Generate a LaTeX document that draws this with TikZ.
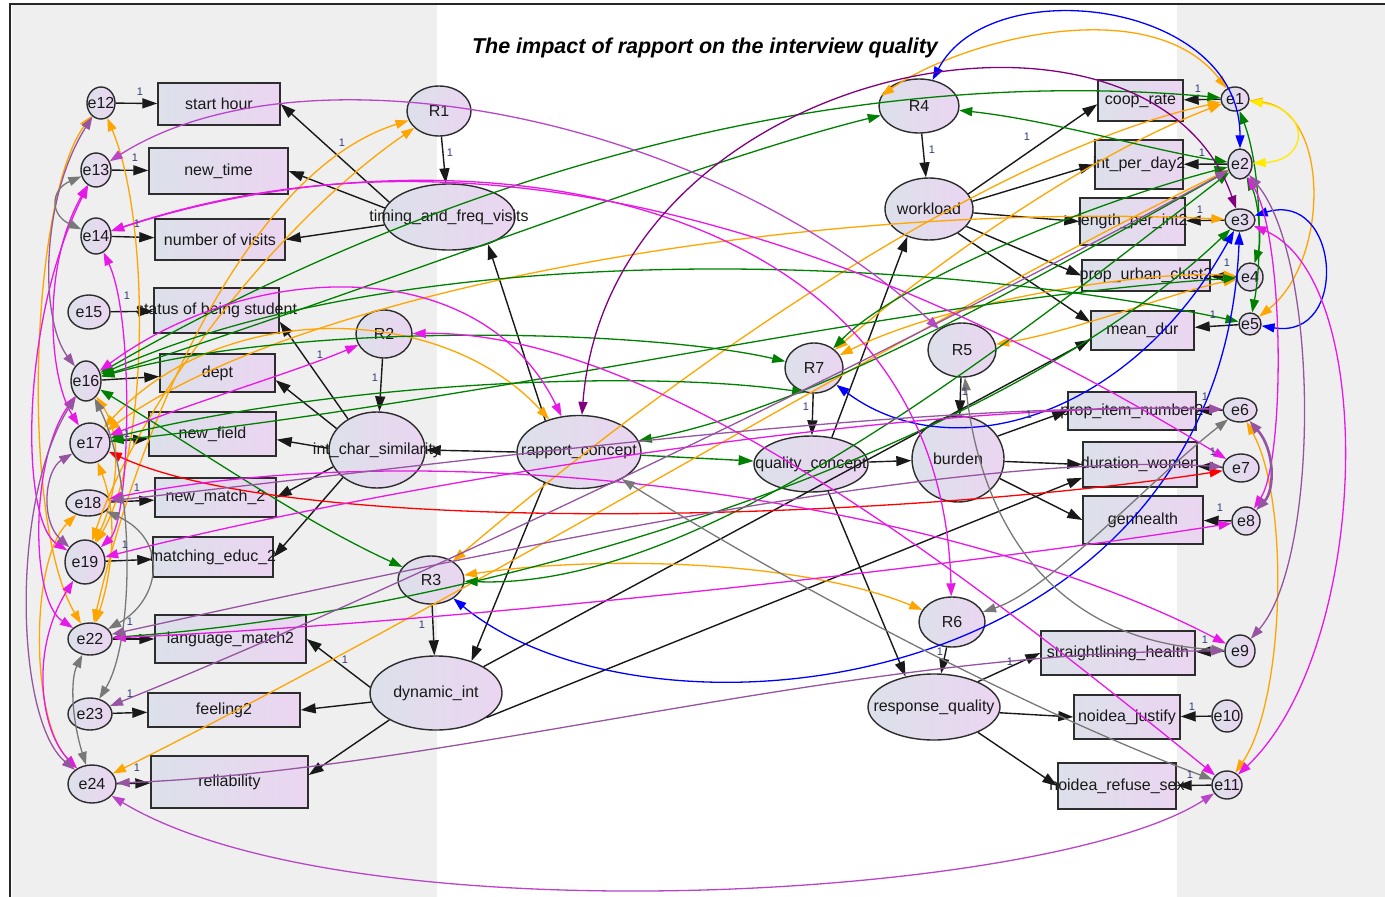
\documentclass[tikz,border=0pt]{standalone}
\usepackage{fontspec}
\setmainfont{Liberation Sans}
\usetikzlibrary{shapes.geometric,arrows.meta}
\newcommand\ctrtext[1]{\makebox[0pt]{#1}}
\definecolor{bandgray}{RGB}{239,239,239}
\definecolor{fillL}{RGB}{220,225,234}
\definecolor{fillR}{RGB}{235,213,241}
\definecolor{edgeC}{RGB}{45,45,45}
\definecolor{cOr}{RGB}{255,165,0}
\definecolor{cGr}{RGB}{0,128,0}
\definecolor{cBl}{RGB}{0,0,255}
\definecolor{cMg}{RGB}{232,24,232}
\definecolor{cMp}{RGB}{185,70,200}
\definecolor{cPu}{RGB}{150,85,160}
\definecolor{cDp}{RGB}{128,0,128}
\definecolor{cGy}{RGB}{120,120,120}
\definecolor{cRd}{RGB}{255,0,0}
\definecolor{cYe}{RGB}{255,235,0}
\definecolor{cLab}{RGB}{50,60,120}
\begin{document}
\begin{tikzpicture}[x=1pt,y=-1pt,
  obs/.style={rectangle, draw=edgeC, line width=1.4pt, left color=fillL, right color=fillR,
    inner sep=0pt, font=\fontsize{16}{18}\selectfont, text=black!90},
  lat/.style={ellipse, draw=edgeC, line width=1.4pt, left color=fillL, right color=fillR,
    inner sep=0pt, font=\fontsize{16}{18}\selectfont, text=black!90},
  blk/.style={draw=black!90, line width=1.4pt, -{Triangle[length=15pt,width=10pt]}},
  cv/.style={line width=1.3pt, {Triangle[length=13pt,width=9pt]}-{Triangle[length=13pt,width=9pt]}},
  one/.style={font=\fontsize{11}{12}\selectfont, text=cLab, inner sep=0pt}]
\useasboundingbox (0,0) rectangle (1385,897);
% background bands and frame
\fill[white] (0,0) rectangle (1385,897);
\fill[bandgray] (12,5) rectangle (437,897);
\fill[bandgray] (1177,5) rectangle (1385,897);
\draw[line width=2pt, black!85] (10,897) -- (10,4) -- (1385,4);
\node[font=\bfseries\itshape\fontsize{21.5}{24}\selectfont] (title) at (705,48) {The impact of rapport on the interview quality};

% left error terms
\node[lat, minimum width=28, minimum height=32] (e12) at (101,103) {\ctrtext{e12}};
\node[lat, minimum width=30, minimum height=34] (e13) at (96,170) {\ctrtext{e13}};
\node[lat, minimum width=30, minimum height=36] (e14) at (96,236) {\ctrtext{e14}};
\node[lat, minimum width=42, minimum height=34] (e15) at (89,312) {\ctrtext{e15}};
\node[lat, minimum width=30, minimum height=40] (e16) at (86,381) {\ctrtext{e16}};
\node[lat, minimum width=40, minimum height=40] (e17) at (90,443) {\ctrtext{e17}};
\node[lat, minimum width=44, minimum height=26] (e18) at (88,503) {\ctrtext{e18}};
\node[lat, minimum width=40, minimum height=44] (e19) at (85,562) {\ctrtext{e19}};
\node[lat, minimum width=44, minimum height=32] (e22) at (90,639) {\ctrtext{e22}};
\node[lat, minimum width=44, minimum height=32] (e23) at (90,714) {\ctrtext{e23}};
\node[lat, minimum width=48, minimum height=38] (e24) at (92,784) {\ctrtext{e24}};

% left indicators
\node[obs, minimum width=122, minimum height=42] (starthour) at (219,104) {\ctrtext{start hour}};
\node[obs, minimum width=139, minimum height=46] (newtime) at (218.5,171) {\ctrtext{new\_time}};
\node[obs, minimum width=130, minimum height=41] (visits) at (220,239.5) {\ctrtext{number of visits}};
\node[obs, minimum width=125, minimum height=45] (status) at (216.5,310.5) {\ctrtext{status of being student}};
\node[obs, minimum width=115, minimum height=38] (dept) at (217.5,373) {\ctrtext{dept}};
\node[obs, minimum width=127, minimum height=44] (newfield) at (212.5,434) {\ctrtext{new\_field}};
\node[obs, minimum width=121, minimum height=39] (newmatch) at (215.5,497.5) {\ctrtext{new\_match\_2}};
\node[obs, minimum width=120, minimum height=40] (matcheduc) at (213,557) {\ctrtext{matching\_educ\_2}};
\node[obs, minimum width=151, minimum height=48] (langmatch) at (230.5,639) {\ctrtext{language\_match2}};
\node[obs, minimum width=152, minimum height=34] (feeling) at (224,710) {\ctrtext{feeling2}};
\node[obs, minimum width=157, minimum height=52] (reliab) at (229.5,782) {\ctrtext{reliability}};

% latent variables
\node[lat, minimum width=64, minimum height=50] (R1) at (439,111) {\ctrtext{R1}};
\node[lat, minimum width=132, minimum height=66] (timing) at (449,217) {\ctrtext{timing\_and\_freq\_visits}};
\node[lat, minimum width=56, minimum height=48] (R2) at (384,334) {\ctrtext{R2}};
\node[lat, minimum width=96, minimum height=76] (intchar) at (377,450) {\ctrtext{int\_char\_similarity}};
\node[lat, minimum width=66, minimum height=48] (R3) at (431,580) {\ctrtext{R3}};
\node[lat, minimum width=132, minimum height=74] (dynamic) at (436,693) {\ctrtext{dynamic\_int}};
\node[lat, minimum width=124, minimum height=73] (rapport) at (579,452) {\ctrtext{rapport\_concept}};
\node[lat, minimum width=58, minimum height=50] (R7) at (814,368) {\ctrtext{R7}};
\node[lat, minimum width=114, minimum height=56] (quality) at (811,464) {\ctrtext{quality\_concept}};
\node[lat, minimum width=80, minimum height=54] (R4) at (919,106) {\ctrtext{R4}};
\node[lat, minimum width=88, minimum height=62] (workload) at (929,209) {\ctrtext{workload}};
\node[lat, minimum width=68, minimum height=54] (R5) at (962,350) {\ctrtext{R5}};
\node[lat, minimum width=92, minimum height=86] (burden) at (958,459) {\ctrtext{burden}};
\node[lat, minimum width=66, minimum height=50] (R6) at (952,622) {\ctrtext{R6}};
\node[lat, minimum width=132, minimum height=66] (response) at (934,707) {\ctrtext{response\_quality}};

% right indicators
\node[obs, minimum width=85, minimum height=41] (coop) at (1140.5,100.5) {\ctrtext{coop\_rate}};
\node[obs, minimum width=88, minimum height=49] (intday) at (1139,164.5) {\ctrtext{int\_per\_day2}};
\node[obs, minimum width=105, minimum height=47] (length) at (1132.5,221.5) {\ctrtext{length\_per\_int2}};
\node[obs, minimum width=128, minimum height=31] (urban) at (1146,275.5) {\ctrtext{prop\_urban\_clust2}};
\node[obs, minimum width=103, minimum height=39] (meandur) at (1142.5,330.5) {\ctrtext{mean\_dur}};
\node[obs, minimum width=128, minimum height=38] (propitem) at (1132,411) {\ctrtext{prop\_item\_number2}};
\node[obs, minimum width=114, minimum height=45] (durwomen) at (1140,464.5) {\ctrtext{duration\_women}};
\node[obs, minimum width=120, minimum height=48] (genhealth) at (1143,520) {\ctrtext{genhealth}};
\node[obs, minimum width=154, minimum height=44] (straight) at (1118,653) {\ctrtext{straightlining\_health}};
\node[obs, minimum width=106, minimum height=44] (justify) at (1127,717) {\ctrtext{noidea\_justify}};
\node[obs, minimum width=118, minimum height=46] (refuse) at (1117,786) {\ctrtext{noidea\_refuse\_sex}};

% right error terms
\node[lat, minimum width=28, minimum height=24] (e1) at (1235,99) {\ctrtext{e1}};
\node[lat, minimum width=24, minimum height=30] (e2) at (1240,164) {\ctrtext{e2}};
\node[lat, minimum width=30, minimum height=22] (e3) at (1240,220) {\ctrtext{e3}};
\node[lat, minimum width=26, minimum height=28] (e4) at (1250,277) {\ctrtext{e4}};
\node[lat, minimum width=22, minimum height=22] (e5) at (1250,324) {\ctrtext{e5}};
\node[lat, minimum width=34, minimum height=24] (e6) at (1240,410) {\ctrtext{e6}};
\node[lat, minimum width=36, minimum height=28] (e7) at (1241,468) {\ctrtext{e7}};
\node[lat, minimum width=28, minimum height=28] (e8) at (1246,521) {\ctrtext{e8}};
\node[lat, minimum width=30, minimum height=32] (e9) at (1240,651) {\ctrtext{e9}};
\node[lat, minimum width=30, minimum height=32] (e10) at (1227,716) {\ctrtext{e10}};
\node[lat, minimum width=30, minimum height=28] (e11) at (1227,785) {\ctrtext{e11}};

% error terms to indicators
\foreach \a/\b in {e12/starthour,e13/newtime,e14/visits,e15/status,e16/dept,e17/newfield,
  e18/newmatch,e19/matcheduc,e22/langmatch,e23/feeling,e24/reliab,
  e1/coop,e2/intday,e3/length,e4/urban,e5/meandur,e6/propitem,e7/durwomen,e8/genhealth,
  e9/straight,e10/justify,e11/refuse}
  \draw[blk] (\a) -- (\b);

% structural paths and loadings
\draw[blk] (R1) -- (timing);
\draw[blk] (timing.166) -- (starthour.east);
\draw[blk] (timing.172) -- (newtime.east);
\draw[blk] (timing.187) -- (visits.east);
\draw[blk] (R2) -- (intchar);
\draw[blk] (intchar.133) -- (status.-10);
\draw[blk] (intchar.152) -- (dept.-7);
\draw[blk] (intchar.178) -- (newfield.-5);
\draw[blk] (intchar.201) -- (newmatch.east);
\draw[blk] (intchar.219) -- (matcheduc.east);
\draw[blk] (rapport.west) -- (intchar.east);
\draw[blk] (rapport.137) -- (timing.-35);
\draw[blk] (rapport.222) -- (dynamic.42);
\draw[blk] (R3) -- (dynamic);
\draw[blk] (dynamic.175) -- (langmatch.east);
\draw[blk] (dynamic.188) -- (feeling.east);
\draw[blk] (dynamic.210) -- (reliab.5);
\draw[blk] (dynamic.29) -- (meandur.190);
\draw[blk] (dynamic.-26) -- (durwomen.193);
\draw[blk] (R7) -- (quality);
\draw[blk] (quality.52) -- (workload.232);
\draw[blk] (quality) -- (burden);
\draw[blk] (quality.-58) -- (response.133);
\draw[blk] (R4) -- (workload);
\draw[blk] (workload.21) -- (coop.185);
\draw[blk] (workload.10) -- (intday.west);
\draw[blk] (workload.-5) -- (length.west);
\draw[blk] (workload.-25) -- (urban.west);
\draw[blk] (workload.-40) -- (meandur.171);
\draw[blk] (R5) -- (burden);
\draw[blk] (burden.30) -- (propitem.west);
\draw[blk] (burden.-3) -- (durwomen.west);
\draw[blk] (burden.-25) -- (genhealth.west);
\draw[blk] (R6) -- (response);
\draw[blk] (response.30) -- (straight.west);
\draw[blk] (response.-5) -- (justify.west);
\draw[blk] (response.-30) -- (refuse.west);
\draw[cGr, line width=1.4pt, -{Triangle[length=15pt,width=10pt]}] (rapport) -- (quality);

% orange covariances
\draw[cv, cOr] (e22) .. controls (20,520) and (30,200) .. (e12);
\draw[cv, cOr] (e19) .. controls (150,450) and (150,220) .. (e12);
\draw[cv, cOr] (e22) .. controls (140,420) and (250,170) .. (R1);
\draw[cv, cOr] (e19) .. controls (140,400) and (280,220) .. (R1);
\draw[cv, cOr] (e17) .. controls (220,300) and (440,300) .. (rapport);
\draw[cv, cOr] (e17) .. controls (300,290) and (800,200) .. (e3);
\draw[cv, cOr] (R3) .. controls (700,350) and (1000,150) .. (e1);
\draw[cv, cOr] (e24) .. controls (500,580) and (900,330) .. (e2);
\draw[cv, cOr] (R7) .. controls (950,250) and (1100,150) .. (e1);
\draw[cv, cOr] (R5) .. controls (1080,330) and (1180,290) .. (e4);
\draw[cv, cOr] (R4.165) .. controls (960,40) and (1150,-10) .. (e1);
\draw[cv, cOr] (e1) .. controls (1330,110) and (1330,260) .. (e5);
\draw[cv, cOr] (e6) .. controls (1290,500) and (1285,700) .. (e11);
\draw[cv, cOr] (R3) .. controls (600,555) and (800,560) .. (R6);
\draw[cv, cOr] (R7) .. controls (950,300) and (1150,270) .. (e4);
\draw[cv, cOr] (e17) .. controls (120,520) and (110,580) .. (e22);
\draw[cv, cOr] (e16) .. controls (125,440) and (115,500) .. (e19);
\draw[cv, cOr] (e24) .. controls (30,720) and (30,560) .. (e18);

% green covariances
\draw[cv, cGr] (e16) .. controls (300,320) and (650,330) .. (R7);
\draw[cv, cGr] (e17) .. controls (350,380) and (650,370) .. (R7.250);
\draw[cv, cGr] (e2) .. controls (1000,300) and (800,410) .. (rapport);
\draw[cv, cGr] (e16) .. controls (400,280) and (700,160) .. (R4);
\draw[cv, cGr] (e16) .. controls (400,200) and (800,60) .. (e1);
\draw[cv, cGr] (R4) .. controls (1050,120) and (1150,150) .. (e2);
\draw[cv, cGr] (e22) .. controls (500,610) and (1000,450) .. (e3);
\draw[cv, cGr] (R3) .. controls (700,590) and (1000,350) .. (e2);
\draw[cv, cGr] (e16) .. controls (200,450) and (300,520) .. (R3);
\draw[cv, cGr] (e16) .. controls (400,240) and (900,250) .. (e5);
\draw[cv, cGr] (e1) .. controls (1262,170) and (1262,260) .. (e5);
\draw[cv, cGr] (e2) .. controls (1258,200) and (1262,240) .. (e4);
\draw[cv, cGr] (e17) .. controls (500,400) and (900,300) .. (e4);
\draw[cv, cGr] (R7) .. controls (900,280) and (1100,200) .. (e2);

% blue, yellow and red covariances
\draw[cv, cBl] (R4) .. controls (990,-30) and (1240,0) .. (e2);
\draw[cv, cBl] (e3) .. controls (1340,190) and (1350,340) .. (e5);
\draw[cv, cBl] (e3) .. controls (1220,700) and (650,760) .. (R3);
\draw[cv, cBl] (R7) .. controls (950,470) and (1130,420) .. (e3);
\draw[cv, cYe] (e1) .. controls (1310,110) and (1310,160) .. (e2);
\draw[cv, cRd] (e17) .. controls (300,540) and (900,520) .. (e7);

% magenta covariances
\draw[cv, cMp] (e13) .. controls (300,40) and (700,110) .. (R5);
\draw[cv, cMg] (e14) .. controls (450,120) and (940,180) .. (R6);
\draw[cv, cMg] (e16) .. controls (250,260) and (480,250) .. (rapport);
\draw[cv, cMg] (e17) .. controls (200,400) and (300,370) .. (R2);
\draw[cv, cMg] (e19) .. controls (450,470) and (950,400) .. (e6);
\draw[cv, cMg] (e14) .. controls (500,100) and (900,260) .. (e7);
\draw[cv, cMg] (e22) .. controls (500,620) and (1000,560) .. (e8);
\draw[cv, cMg] (e18) .. controls (450,430) and (950,500) .. (e9);
\draw[cv, cMg] (R2) .. controls (650,330) and (950,560) .. (e11);
\draw[cv, cMp] (e24) .. controls (350,940) and (1050,900) .. (e11);
\draw[cv, cMg] (e3) .. controls (1380,280) and (1370,650) .. (e11);
\draw[cv, cMg] (e2) .. controls (1285,240) and (1285,460) .. (e8);
\draw[cv, cMg] (e13) .. controls (40,270) and (50,380) .. (e17);
\draw[cv, cMg] (e14) .. controls (135,320) and (130,520) .. (e19);
\draw[cv, cMg] (e13) .. controls (20,320) and (20,520) .. (e19);
\draw[cv, cMg] (e16) .. controls (30,460) and (30,600) .. (e22);
\draw[cv, cMg] (e19) .. controls (30,650) and (40,730) .. (e24);

% purple and grey covariances
\draw[cv, cDp] (rapport) .. controls (610,60) and (1150,-40) .. (e3);
\draw[cv, cPu, line width=2.6pt] (e6) .. controls (1275,450) and (1275,490) .. (e8);
\draw[cv, cGy] (R5) .. controls (980,520) and (1050,640) .. (e9);
\draw[cv, cGy] (e6) .. controls (1150,480) and (1050,590) .. (R6);
\draw[cv, cGy] (rapport) .. controls (750,560) and (1000,700) .. (e11);
\draw[cv, cPu] (e2) .. controls (1320,260) and (1320,560) .. (e9);
\draw[cv, cPu] (e12) .. controls (40,200) and (40,320) .. (e16);
\draw[cv, cPu] (e19) .. controls (40,520) and (45,470) .. (e17);
\draw[cv, cPu] (e16) .. controls (10,500) and (15,720) .. (e24);
\draw[cv, cPu] (e24) .. controls (450,770) and (850,650) .. (e9);
\draw[cv, cPu] (e18) .. controls (400,470) and (900,400) .. (e6);
\draw[cv, cPu] (e22) .. controls (450,560) and (950,450) .. (e7);
\draw[cv, cPu] (e23) .. controls (400,590) and (900,350) .. (e2);
\draw[cv, cGy] (e16) .. controls (135,480) and (135,640) .. (e23);
\draw[cv, cGy] (e22) .. controls (70,680) and (72,720) .. (e24);
\draw[cv, cGy] (e13) .. controls (50,190) and (50,215) .. (e14);
\draw[cv, cGy] (e18) .. controls (170,540) and (160,600) .. (e22);

% fixed loadings
\node[one] (o12) at (140,92) {1};
\node[one] (o13) at (135,158) {1};
\node[one] (o14) at (137,224) {1};
\node[one] (o15) at (127,296) {1};
\node[one] (o17) at (127,434) {1};
\node[one] (o18) at (137,488) {1};
\node[one] (o19) at (125,545) {1};
\node[one] (o22) at (130,622) {1};
\node[one] (o23) at (130,694) {1};
\node[one] (o24) at (137,768) {1};
\node[one] (oR1) at (450,153) {1};
\node[one] (oT) at (342,143) {1};
\node[one] (oI) at (320,355) {1};
\node[one] (oR2) at (375,378) {1};
\node[one] (oR3) at (422,625) {1};
\node[one] (oD) at (345,660) {1};
\node[one] (oR4) at (932,150) {1};
\node[one] (oW) at (1027,137) {1};
\node[one] (oR7) at (806,407) {1};
\node[one] (oR5) at (965,392) {1};
\node[one] (oB) at (1029,415) {1};
\node[one] (oR6) at (940,652) {1};
\node[one] (oRQ) at (1010,662) {1};
\node[one] (o1) at (1198,89) {1};
\node[one] (o2) at (1202,153) {1};
\node[one] (o3) at (1200,210) {1};
\node[one] (o4) at (1227,263) {1};
\node[one] (o5) at (1213,315) {1};
\node[one] (o6) at (1205,397) {1};
\node[one] (o7) at (1213,452) {1};
\node[one] (o8) at (1220,508) {1};
\node[one] (o9) at (1205,640) {1};
\node[one] (o10) at (1192,707) {1};
\node[one] (o11) at (1190,775) {1};
\end{tikzpicture}
\end{document}
